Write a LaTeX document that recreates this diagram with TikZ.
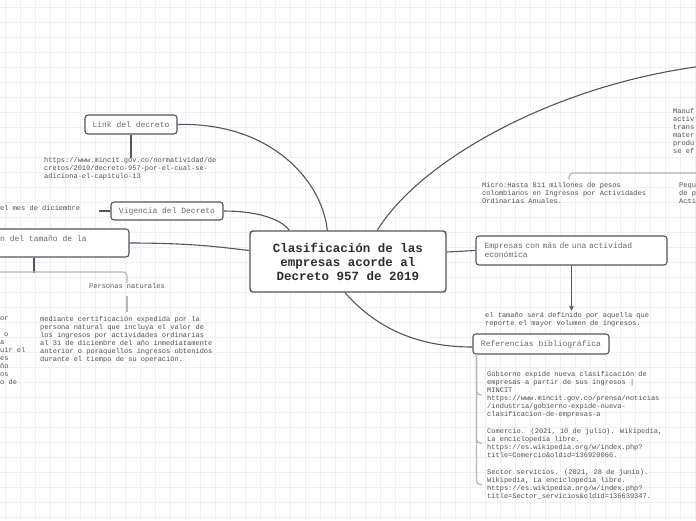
\documentclass[tikz,border=0pt]{standalone}
\usepackage{fontspec}
\newfontfamily\mono{Liberation Mono}
\usetikzlibrary{arrows.meta}
\definecolor{bord}{HTML}{50565E}
\definecolor{boxtxt}{HTML}{6A6A6A}
\definecolor{smalltxt}{HTML}{505050}
\definecolor{lite}{HTML}{B8B8B8}
\definecolor{gridc}{HTML}{F0F0F0}
\definecolor{centtxt}{HTML}{2E2E2E}
\tikzset{
  box/.style={draw=bord, line width=1.1pt, rounded corners=3pt, fill=white,
    font=\mono\fontsize{8}{9}\selectfont, text=boxtxt, inner sep=0pt},
  centralbox/.style={draw=bord, line width=1.4pt, rounded corners=3pt, fill=white,
    font=\mono\bfseries\fontsize{12.5}{14}\selectfont, text=centtxt, align=center,
    minimum width=196pt, minimum height=61pt, inner sep=0pt},
  small/.style={font=\mono\fontsize{7}{8}\selectfont, text=smalltxt, align=left,
    inner sep=0pt, anchor=north west},
  conn/.style={draw=bord, line width=1.1pt},
  lconn/.style={draw=lite, line width=1.3pt, rounded corners=4pt},
}
\begin{document}
\begin{tikzpicture}[x=1pt,y=-1pt]
\useasboundingbox (0,0) rectangle (696,520);
\clip (0,0) rectangle (696,520);
\fill[white] (0,0) rectangle (696,520);
\foreach \i in {5,20,...,695} \draw[gridc, line width=0.5pt] (\i,0) -- (\i,520);
\foreach \j in {7,22,...,520} \draw[gridc, line width=0.5pt] (0,\j) -- (696,\j);

% main nodes
\node[centralbox] (central) at (348,261.5) {Clasificación de las\\empresas acorde al\\ Decreto 957 de 2019};
\node[box, minimum width=92pt, minimum height=19pt] (link) at (131,124.5) {Link del decreto};
\node[box, minimum width=112pt, minimum height=18pt] (vig) at (167,211) {Vigencia del Decreto};
\node[box, minimum width=139pt, minimum height=28pt] (det) at (59.5,243) {};
\node[font=\mono\fontsize{8}{9}\selectfont, text=boxtxt, inner sep=0pt, anchor=west] (dettxt) at (0,238.5) {n del tamaño de la};
\node[box, minimum width=191pt, minimum height=29pt, text width=174pt, align=left] (emp) at (571.5,250.5) {Empresas con más de una actividad\\económica};
\node[box, minimum width=136pt, minimum height=20pt] (refs) at (541,344) {Referencias bibliográfica};

% small texts
\node[small] (url) at (44,157.5) {https://www.mincit.gov.co/normatividad/de\\cretos/2019/decreto-957-por-el-cual-se-\\adiciona-el-capitulo-13};
\node[small] (dic) at (0,205.5) {el mes de diciembre};
\node[small, anchor=center] (pers) at (127,286) {Personas naturales};
\node[small] (med) at (40,316.5) {mediante certificación expedida por la\\persona natural que incluya el valor de\\los ingresos por actividades ordinarias\\al 31 de diciembre del año inmediatamente\\anterior o poraquellos ingresos obtenidos\\durante el tiempo de su operación.};
\node[small] (lfrag) at (0,316.5) {or\\\mbox{}\\\hspace{4pt}o\\a\\uir el\\es\\ño\\os\\o de};
\node[small] (micro) at (482,182.5) {Micro:Hasta 811 millones de pesos\\colombianos en Ingresos por Actividades\\Ordinarias Anuales.};
\node[small] (pequ) at (679,182.5) {Pequ\\de p\\Acti};
\node[small] (manuf) at (673,108.5) {Manuf\\activ\\trans\\mater\\produ\\se ef};
\node[small] (tam) at (485,312.5) {el tamaño será definido por aquella que\\reporte el mayor volumen de ingresos.};
\node[small] (ref1) at (487,371.5) {Gobierno expide nueva clasificación de\\empresas a partir de sus ingresos |\\MINCIT\\https://www.mincit.gov.co/prensa/noticias\\/industria/gobierno-expide-nueva-\\clasificacion-de-empresas-a};
\node[small] (ref2) at (487,428.5) {Comercio. (2021, 10 de julio). Wikipedia,\\La enciclopedia libre.\\https://es.wikipedia.org/w/index.php?\\title=Comercio\&oldid=136920066.};
\node[small] (ref3) at (487,469.5) {Sector servicios. (2021, 28 de junio).\\Wikipedia, La enciclopedia libre.\\https://es.wikipedia.org/w/index.php?\\title=Sector\_servicios\&oldid=136639347.};

\coordinate (offR) at (720,64);
\coordinate (mR) at (710,173);
\coordinate (bl) at (-10,272);

% connectors from central
\draw[conn] (link.east) .. controls (270,122) and (322,180) .. ([xshift=78pt]central.north west);
\draw[conn] (vig.east) .. controls (255,211) and (280,218) .. ([xshift=40pt]central.north west);
\draw[conn] (det.east) .. controls (190,243) and (220,247) .. ([yshift=11pt]central.west);
\draw[conn] ([xshift=128pt]central.north west) .. controls (420,160) and (560,80) .. (offR);
\draw[conn] ([yshift=9.5pt]central.east) -- ([yshift=0pt]emp.west);
\draw[conn] ([xshift=-3pt]central.south) .. controls (378,330) and (420,347) .. ([yshift=-3pt]refs.west);

% children
\draw[conn] (link.south) -- (link.south |- url.north);
\draw[conn] (vig.west) -- ([xshift=-11pt]vig.west);
\draw[conn, -{Stealth[length=5pt,width=5pt]}] (emp.south) -- ++(0,45);
\draw[conn] ([xshift=-25.5pt]det.south) -- ++(0,15);
\draw[lconn] (bl) -| (pers.north);
\draw[lconn] ([yshift=-7pt]pers.south) -- ++(0,16);
\draw[lconn] (mR) -| ([xshift=87pt,yshift=3pt]micro.north west);
\draw[lconn] ([xshift=4pt]refs.south west) |- ([xshift=-5pt]ref1.west);
\draw[lconn] ([xshift=4pt]refs.south west) |- ([xshift=-5pt]ref2.west);
\draw[lconn] ([xshift=4pt]refs.south west) |- ([xshift=-5pt]ref3.west);
\end{tikzpicture}
\end{document}
